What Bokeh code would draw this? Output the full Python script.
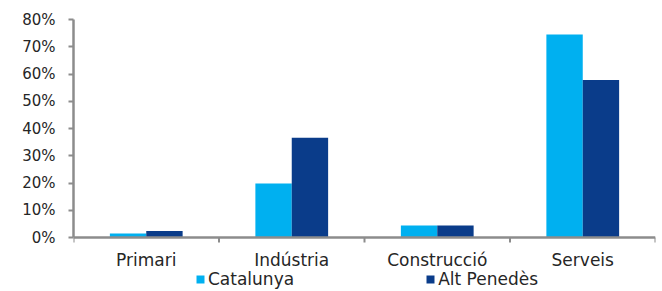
from bokeh.plotting import figure
from bokeh.models import (ColumnDataSource, FixedTicker, NumeralTickFormatter, Range1d,
                          Legend, LegendItem, Span)
from bokeh.core.properties import value
from bokeh.embed import file_html
from bokeh.resources import INLINE

categories = ["Primari", "Indústria", "Construcció", "Serveis"]
catalunya = [0.015, 0.198, 0.044, 0.745]
alt_penedes = [0.024, 0.366, 0.044, 0.578]
series_names = ["Catalunya", "Alt Penedès"]
y_ticks = [0.0, 0.1, 0.2, 0.3, 0.4, 0.5, 0.6, 0.7, 0.8]

FONT = "DejaVu Sans"
C1 = "#00B0F0"
C2 = "#0A3C8A"
AXIS = "#8C8C8C"
TXT = "#262626"

# layout (pixels)
H, TOP, PLOT_H = 291, 19, 218          # plot area: 80% at y=19, 0% at y=237
px_per_unit = PLOT_H / 0.8
y_min = -(H - TOP - PLOT_H) / px_per_unit

idx = list(range(len(categories)))
src = ColumnDataSource(dict(
    x1=[i + 0.375 for i in idx],
    x2=[i + 0.625 for i in idx],
    xc=[i + 0.5 for i in idx],
    zero=[0.0 for _ in idx],
    label=categories,
    cat=catalunya,
    alt=alt_penedes,
))
bounds = ColumnDataSource(dict(
    xb=[float(i) for i in range(len(categories) + 1)],
    y0=[0.0] * (len(categories) + 1),
    y1=[-5 / px_per_unit] * (len(categories) + 1),
))

p = figure(width=660, height=H, output_backend="svg", toolbar_location=None,
           x_axis_location=None,
           x_range=Range1d(0, len(categories)), y_range=Range1d(y_min, 0.8),
           min_border_left=73, min_border_right=5, min_border_top=TOP, min_border_bottom=0)
p.outline_line_color = None
p.grid.grid_line_color = None
p.background_fill_color = "white"

r1 = p.vbar(x="x1", top="cat", width=0.25, source=src, fill_color=C1, line_color=None)
r2 = p.vbar(x="x2", top="alt", width=0.25, source=src, fill_color=C2, line_color=None)

# x axis: baseline, boundary ticks, category labels
p.add_layout(Span(location=0, dimension="width", line_color=AXIS, line_width=2.5))
p.segment(x0="xb", y0="y0", x1="xb", y1="y1", source=bounds, line_color=AXIS, line_width=2)
p.text(x="xc", y="zero", text="label", source=src, text_align="center",
       text_baseline="alphabetic", y_offset=22, text_font=value(FONT),
       text_font_size="17px", text_color=TXT)

# y axis
p.yaxis.bounds = (0, 0.8)
p.yaxis.ticker = FixedTicker(ticks=y_ticks)
p.yaxis.formatter = NumeralTickFormatter(format="0%")
p.yaxis.axis_line_color = AXIS
p.yaxis.axis_line_width = 2.5
p.yaxis.major_tick_line_color = AXIS
p.yaxis.major_tick_line_width = 2
p.yaxis.major_tick_out = 5
p.yaxis.major_tick_in = 0
p.yaxis.minor_tick_line_color = None
p.yaxis.major_label_text_font = FONT
p.yaxis.major_label_text_font_size = "15px"
p.yaxis.major_label_text_color = TXT
p.yaxis.major_label_standoff = 13

legend = Legend(items=[LegendItem(label=value(series_names[0]), renderers=[r1]),
                       LegendItem(label=value(series_names[1]), renderers=[r2])],
                orientation="horizontal", location=(122, 2))
legend.label_text_font = FONT
legend.label_text_font_size = "17px"
legend.label_text_color = TXT
legend.glyph_width = 10
legend.glyph_height = 10
legend.spacing = 131
legend.padding = 0
legend.margin = 0
legend.label_standoff = 3
legend.label_height = 18
legend.border_line_color = None
legend.background_fill_alpha = 0
p.add_layout(legend, "center")

open("out.html", "w").write(file_html(p, INLINE))
